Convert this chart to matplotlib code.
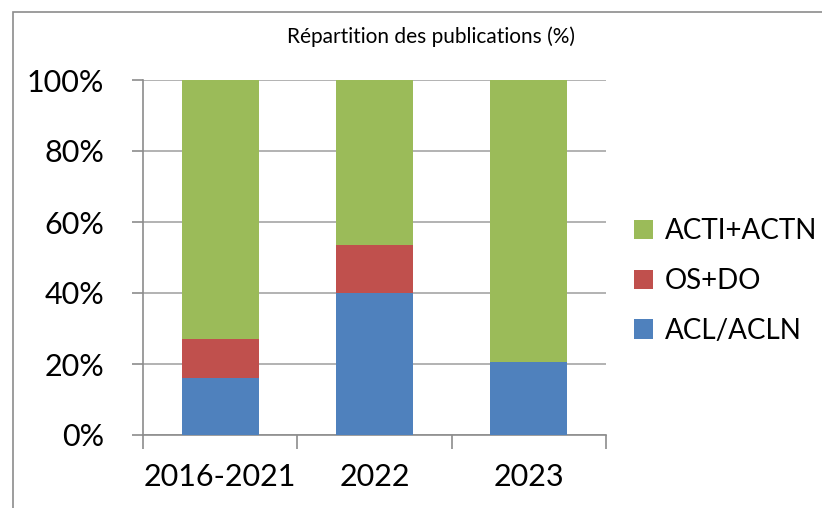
import matplotlib.pyplot as plt
from matplotlib.patches import Rectangle
from matplotlib.ticker import PercentFormatter

plt.rcParams['font.family'] = ['Lato', 'DejaVu Sans']

#### D A T A ####
periods = ['2016-2021', '2022', '2023']
acl_acln = [16.1, 40.0, 20.6]
os_do = [10.9, 13.5, 0.0]
acti_actn = [100 - a - o for a, o in zip(acl_acln, os_do)]

col_blue = '#4F81BD'
col_red = '#C0504D'
col_green = '#9BBB59'

fig = plt.figure(figsize=(8.22, 5.08), dpi=100)
W, H = 822, 508
ax = fig.add_axes([143 / W, 1 - 435 / H, (606 - 143) / W, (435 - 80) / H])

# frame of the chart area (partly cut off at right/bottom)
fig.patches.append(Rectangle((13 / W, -0.1), 1.2, 1 - 12 / H + 0.1, transform=fig.transFigure,
                             fill=False, edgecolor='#8c8c8c', lw=1.2))

x = range(len(periods))
ax.bar(x, acl_acln, width=0.5, color=col_blue, label='ACL/ACLN', zorder=3)
ax.bar(x, os_do, width=0.5, bottom=acl_acln, color=col_red, label='OS+DO', zorder=3)
bottom2 = [a + o for a, o in zip(acl_acln, os_do)]
ax.bar(x, acti_actn, width=0.5, bottom=bottom2, color=col_green, label='ACTI+ACTN', zorder=3)

ax.set_xlim(-0.5, 2.5)
ax.set_ylim(0, 100)
ax.set_yticks(range(0, 101, 20))
ax.yaxis.set_major_formatter(PercentFormatter(decimals=0))
ax.grid(axis='y', color='#a6a6a6', lw=1.2, zorder=0)

ax.set_xticks(x)
ax.set_xticklabels(periods)
ax.set_xticks([-0.5, 0.5, 1.5, 2.5], minor=True)
ax.tick_params(axis='x', which='major', length=0, labelsize=22, pad=20)
ax.tick_params(axis='x', which='minor', length=10, width=1.2, color='#8c8c8c', direction='out')
ax.tick_params(axis='y', length=8, width=1.2, color='#8c8c8c', labelsize=22, pad=20)

for side in ['top', 'right']:
    ax.spines[side].set_visible(False)
for side in ['left', 'bottom']:
    ax.spines[side].set_color('#8c8c8c')
    ax.spines[side].set_linewidth(1.2)

fig.text(431 / W, 1 - 37 / H, 'Répartition des publications (%)', ha='center', va='center', fontsize=15)

handles, labels = ax.get_legend_handles_labels()
ax.legend(handles[::-1], labels[::-1], loc='center left', bbox_to_anchor=(634 / W, 1 - 281 / H),
          bbox_transform=fig.transFigure, frameon=False, fontsize=20, handlelength=0.7,
          handleheight=0.7, handletextpad=0.4, labelspacing=0.85, borderaxespad=0, borderpad=0)

fig.savefig('out.png', dpi=100)
